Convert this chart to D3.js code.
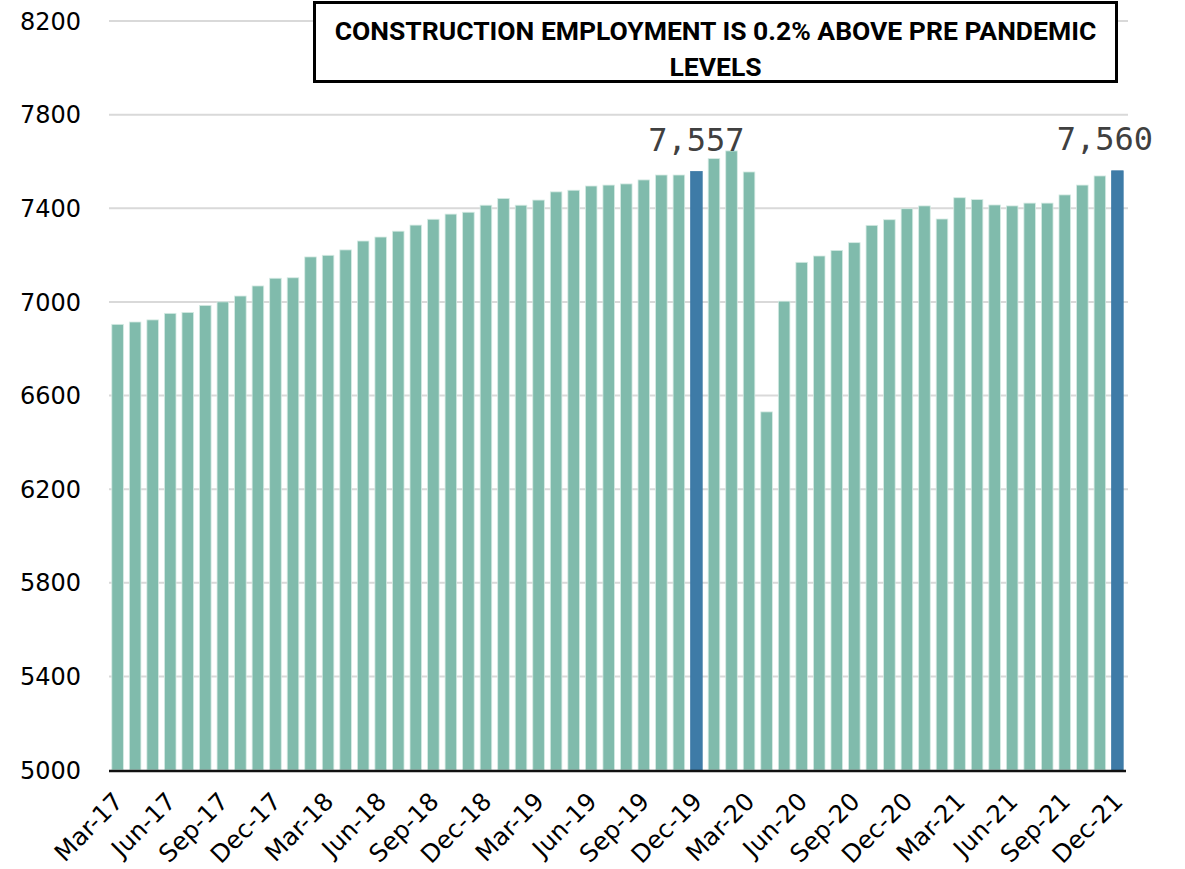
<!DOCTYPE html>
<html>
<head>
<meta charset="utf-8">
<script src="https://cdn.jsdelivr.net/npm/d3@7"></script>
<style>
  html, body { margin: 0; padding: 0; background: #ffffff; }
  svg { display: block; }
</style>
</head>
<body>
<svg id="chart" width="1185" height="869"></svg>
<script>
// Monthly construction employment (thousands), Mar-17 .. Dec-21
const months = [
  "Mar-17","Apr-17","May-17","Jun-17","Jul-17","Aug-17","Sep-17","Oct-17","Nov-17","Dec-17",
  "Jan-18","Feb-18","Mar-18","Apr-18","May-18","Jun-18","Jul-18","Aug-18","Sep-18","Oct-18","Nov-18","Dec-18",
  "Jan-19","Feb-19","Mar-19","Apr-19","May-19","Jun-19","Jul-19","Aug-19","Sep-19","Oct-19","Nov-19","Dec-19",
  "Jan-20","Feb-20","Mar-20","Apr-20","May-20","Jun-20","Jul-20","Aug-20","Sep-20","Oct-20","Nov-20","Dec-20",
  "Jan-21","Feb-21","Mar-21","Apr-21","May-21","Jun-21","Jul-21","Aug-21","Sep-21","Oct-21","Nov-21","Dec-21"
];
const employment = [
  6904, 6914, 6923, 6951, 6955, 6985, 7000, 7025, 7068, 7101,
  7103, 7192, 7199, 7222, 7260, 7277, 7302, 7328, 7353, 7375, 7383, 7413,
  7442, 7413, 7435, 7470, 7477, 7495, 7499, 7504, 7521, 7542, 7542, 7557,
  7612, 7645, 7555, 6530, 7003, 7169, 7196, 7220, 7253, 7327, 7351, 7398,
  7410, 7354, 7445, 7437, 7414, 7410, 7422, 7422, 7457, 7499, 7538, 7560
];
// Bars picked out and labelled with their value
const highlighted = ["Dec-19", "Dec-21"];
// Every third month gets a category label
const tickLabels = [
  "Mar-17","Jun-17","Sep-17","Dec-17","Mar-18","Jun-18","Sep-18","Dec-18",
  "Mar-19","Jun-19","Sep-19","Dec-19","Mar-20","Jun-20","Sep-20","Dec-20",
  "Mar-21","Jun-21","Sep-21","Dec-21"
];
const yTicks = [5000, 5400, 5800, 6200, 6600, 7000, 7400, 7800, 8200];
const titleLines = ["CONSTRUCTION EMPLOYMENT IS 0.2% ABOVE PRE PANDEMIC", "LEVELS"];

const data = months.map((m, i) => ({ month: m, value: employment[i] }));

const svg = d3.select("#chart");
const plot = { left: 109, right: 1126, top: 21, bottom: 770 };

const x = d3.scaleBand()
  .domain(months)
  .range([plot.left, plot.right])
  .paddingInner(0.34)
  .paddingOuter(0.16);

const y = d3.scaleLinear()
  .domain([5000, 8200])
  .range([plot.bottom, plot.top]);

const axisFont = "'DejaVu Sans', sans-serif";

// Horizontal gridlines
svg.append("g")
  .selectAll("line")
  .data(yTicks.filter(t => t !== 5000))
  .join("line")
  .attr("x1", plot.left)
  .attr("x2", plot.right + 2)
  .attr("y1", d => y(d))
  .attr("y2", d => y(d))
  .attr("stroke", "#d9d9d9")
  .attr("stroke-width", 2);

// Y axis labels
svg.append("g")
  .selectAll("text")
  .data(yTicks)
  .join("text")
  .attr("x", 81)
  .attr("y", d => y(d))
  .attr("dy", "0.36em")
  .attr("text-anchor", "end")
  .attr("font-family", axisFont)
  .attr("font-size", 24)
  .attr("fill", "#000")
  .text(d => d);

// Bars
svg.append("g")
  .selectAll("rect")
  .data(data)
  .join("rect")
  .attr("x", d => x(d.month))
  .attr("width", x.bandwidth())
  .attr("y", d => y(d.value))
  .attr("height", d => y(5000) - y(d.value))
  .attr("fill", d => highlighted.includes(d.month) ? "#3e7ba7" : "#80bbac")
  .attr("stroke", d => highlighted.includes(d.month) ? "#3e7ba7" : "#d6ebe4")
  .attr("stroke-width", 0.8);

// Baseline
svg.append("line")
  .attr("x1", plot.left)
  .attr("x2", plot.right)
  .attr("y1", plot.bottom + 1)
  .attr("y2", plot.bottom + 1)
  .attr("stroke", "#111")
  .attr("stroke-width", 2.5);

// Rotated category labels
svg.append("g")
  .selectAll("text")
  .data(tickLabels)
  .join("text")
  .attr("text-anchor", "end")
  .attr("font-family", axisFont)
  .attr("font-size", 24.5)
  .attr("fill", "#000")
  .attr("transform", d => {
    const cx = x(d) + x.bandwidth() / 2;
    return `translate(${cx + 7},${plot.bottom + 33}) rotate(-45)`;
  })
  .text(d => d);

// Value labels above highlighted bars
const valueFmt = d3.format(",");
svg.append("g")
  .selectAll("text")
  .data(data.filter(d => highlighted.includes(d.month)))
  .join("text")
  .attr("font-family", "'DejaVu Sans Mono', monospace")
  .attr("font-size", 32)
  .attr("fill", "#404040")
  .attr("text-anchor", "middle")
  .attr("y", d => y(d.value) - 21)
  .text(d => valueFmt(d.value))
  .attr("x", function(d) {
    const cx = x(d.month) + x.bandwidth() / 2;
    const half = this.getComputedTextLength() / 2;
    return Math.min(cx, 1153 - half);
  });

// Title box
const box = { x: 314.5, y: 2.5, w: 802, h: 79 };
svg.append("rect")
  .attr("x", box.x)
  .attr("y", box.y)
  .attr("width", box.w)
  .attr("height", box.h)
  .attr("fill", "#fff")
  .attr("stroke", "#000")
  .attr("stroke-width", 3);

const title = svg.append("text")
  .attr("font-family", "Roboto, 'Liberation Sans', sans-serif")
  .attr("font-weight", 700)
  .attr("font-size", 20)
  .attr("fill", "#000")
  .attr("text-anchor", "middle");

title.selectAll("tspan")
  .data(titleLines)
  .join("tspan")
  .attr("x", box.x + box.w / 2)
  .attr("y", (d, i) => 40 + i * 36)
  .text(d => d);

// Scale the title so its first line spans the box with a small margin
const firstLine = title.select("tspan").node();
const w0 = firstLine.getComputedTextLength();
title.attr("font-size", 20 * 762 / w0);
</script>
</body>
</html>
